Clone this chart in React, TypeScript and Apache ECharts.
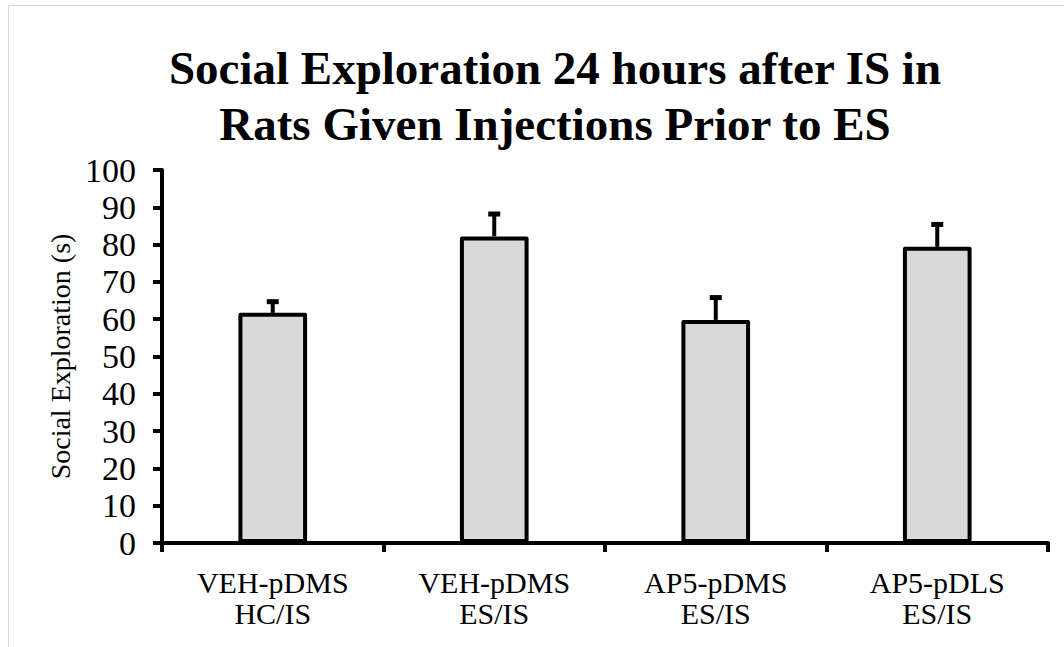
import React, { useEffect, useRef } from "react";
import * as echarts from "echarts";

const categories = ["VEH-pDMS\nHC/IS", "VEH-pDMS\nES/IS", "AP5-pDMS\nES/IS", "AP5-pDLS\nES/IS"];
const means = [61.7, 82.2, 59.8, 79.4];
const errors = [3.0, 6.0, 6.0, 6.0];
const yTicks = { min: 0, max: 100, interval: 10 };
const titleText = "Social Exploration 24 hours after IS in\nRats Given Injections Prior to ES";
const yAxisName = "Social Exploration (s)";

const SERIF = "'Liberation Serif', 'Times New Roman', serif";

export default function App() {
  const ref = useRef<HTMLDivElement>(null);
  useEffect(() => {
    if (!ref.current) return;
    const chart = echarts.init(ref.current, undefined, { renderer: "svg" });
    const errData = means.map((m, i) => [i, m, m + errors[i]]);
    chart.setOption({
      animation: false,
      backgroundColor: "#ffffff",
      title: {
        text: titleText,
        left: 550,
        textAlign: "center",
        top: 35,
        textStyle: {
          fontFamily: SERIF,
          fontWeight: "bold",
          fontSize: 47,
          lineHeight: 56,
          color: "#000",
        },
      },
      graphic: [
        {
          type: "rect",
          shape: { x: 8.5, y: 5.5, width: 1200, height: 800 },
          style: { fill: "none", stroke: "#d9d9d9", lineWidth: 1 },
          silent: true,
        },
      ],
      grid: { left: 162, right: 16, top: 170, bottom: 104, containLabel: false },
      xAxis: {
        type: "category",
        data: categories,
        boundaryGap: true,
        axisLine: { lineStyle: { color: "#000", width: 4 } },
        axisTick: { show: true, alignWithLabel: false, interval: 0, length: 9, lineStyle: { color: "#000", width: 4 } },
        axisLabel: {
          interval: 0,
          margin: 24,
          fontFamily: SERIF,
          fontSize: 30,
          lineHeight: 31,
          color: "#000",
        },
      },
      yAxis: {
        type: "value",
        min: yTicks.min,
        max: yTicks.max,
        interval: yTicks.interval,
        name: yAxisName,
        nameLocation: "middle",
        nameGap: 83,
        nameTextStyle: { fontFamily: SERIF, fontSize: 28, color: "#000" },
        splitLine: { show: false },
        axisLine: { show: true, lineStyle: { color: "#000", width: 4 } },
        axisTick: { show: true, length: 9, lineStyle: { color: "#000", width: 4 } },
        axisLabel: { margin: 26, fontFamily: SERIF, fontSize: 34, color: "#000" },
      },
      series: [
        {
          type: "bar",
          data: means,
          barWidth: "31%",
          itemStyle: { color: "#d9d9d9", borderColor: "#000", borderWidth: 4, borderJoin: "round" },
          z: 2,
        },
        {
          type: "custom",
          data: errData,
          z: 3,
          renderItem: (params: any, api: any) => {
            const x = api.value(0);
            const top = api.coord([x, api.value(2)]);
            const base = api.coord([x, api.value(1)]);
            return {
              type: "group",
              children: [
                {
                  type: "line",
                  shape: { x1: top[0], y1: top[1], x2: base[0], y2: base[1] },
                  style: { stroke: "#000", lineWidth: 4 },
                },
                {
                  type: "rect",
                  shape: { x: top[0] - 6, y: top[1] - 2.5, width: 12, height: 5 },
                  style: { fill: "#000" },
                },
              ],
            };
          },
        },
      ],
    });
    return () => chart.dispose();
  }, []);
  return (
    <div
      ref={ref}
      style={{ position: "absolute", left: 0, top: 0, width: 1064, height: 647 }}
    />
  );
}
